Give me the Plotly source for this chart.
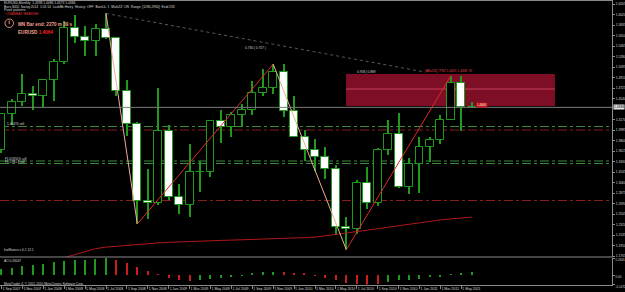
import plotly.graph_objects as go

# ---------------- data ----------------
months = ["Sep 2007", "Oct 2007", "Nov 2007", "Dec 2007", "Jan 2008", "Feb 2008", "Mar 2008", "Apr 2008",
          "May 2008", "Jun 2008", "Jul 2008", "Aug 2008", "Sep 2008", "Oct 2008", "Nov 2008", "Dec 2008",
          "Jan 2009", "Feb 2009", "Mar 2009", "Apr 2009", "May 2009", "Jun 2009", "Jul 2009", "Aug 2009",
          "Sep 2009", "Oct 2009", "Nov 2009", "Dec 2009", "Jan 2010", "Feb 2010", "Mar 2010", "Apr 2010",
          "May 2010", "Jun 2010", "Jul 2010", "Aug 2010", "Sep 2010", "Oct 2010", "Nov 2010", "Dec 2010",
          "Jan 2011", "Feb 2011", "Mar 2011", "Apr 2011", "May 2011", "Jun 2011"]
opens = [1.3637, 1.4265, 1.4478, 1.4628, 1.4588, 1.4862, 1.5186, 1.5784, 1.5616, 1.5550, 1.5760, 1.5605,
         1.4674, 1.4095, 1.2727, 1.2697, 1.3971, 1.2803, 1.2669, 1.3248, 1.3239, 1.4152, 1.4032, 1.4257,
         1.4334, 1.4637, 1.4721, 1.5004, 1.4321, 1.3862, 1.3628, 1.3510, 1.3295, 1.2270, 1.2236, 1.3048,
         1.2701, 1.3633, 1.3923, 1.2982, 1.3380, 1.3690, 1.3801, 1.4165, 1.4807, 1.4393]
highs = [1.4279, 1.4527, 1.4967, 1.4752, 1.4875, 1.5240, 1.5905, 1.6019, 1.5819, 1.5845, 1.6038, 1.5623,
         1.4867, 1.4119, 1.3300, 1.4719, 1.4072, 1.3031, 1.3739, 1.3434, 1.4160, 1.4338, 1.4305, 1.4446,
         1.4843, 1.5061, 1.5144, 1.5140, 1.4579, 1.3985, 1.3818, 1.3694, 1.3365, 1.2452, 1.3107, 1.3334,
         1.3670, 1.4157, 1.4282, 1.3500, 1.3861, 1.3862, 1.4250, 1.4940, 1.4940, 1.4486]
lows = [1.3583, 1.4071, 1.4412, 1.4344, 1.4398, 1.4500, 1.5148, 1.5517, 1.5283, 1.5282, 1.5584, 1.4587,
        1.3881, 1.2329, 1.2424, 1.2660, 1.2745, 1.2513, 1.2457, 1.2885, 1.3160, 1.3749, 1.3868, 1.4047,
        1.4255, 1.4578, 1.4626, 1.4219, 1.3861, 1.3444, 1.3267, 1.3115, 1.2143, 1.1876, 1.2151, 1.2589,
        1.2643, 1.3541, 1.2969, 1.2861, 1.2871, 1.3429, 1.3733, 1.4155, 1.3968, 1.4373]
closes = [1.4265, 1.4478, 1.4628, 1.4588, 1.4862, 1.5186, 1.5784, 1.5616, 1.5550, 1.5760, 1.5605, 1.4674,
          1.4095, 1.2727, 1.2697, 1.3971, 1.2803, 1.2669, 1.3248, 1.3239, 1.4152, 1.4032, 1.4257, 1.4334,
          1.4637, 1.4721, 1.5004, 1.4321, 1.3862, 1.3628, 1.3510, 1.3295, 1.2270, 1.2236, 1.3048, 1.2701,
          1.3633, 1.3923, 1.2982, 1.3380, 1.3690, 1.3801, 1.4165, 1.4807, 1.4393, 1.4384]

ao_values = [0.095, 0.112, 0.138, 0.153, 0.173, 0.194, 0.214, 0.224, 0.232, 0.238, 0.2605, 0.224,
             0.190, 0.122, 0.060, 0.005, -0.050, -0.080, -0.085, -0.075, -0.065, -0.050, -0.030, -0.010,
             0.035, 0.040, 0.050, 0.045, 0.030, 0.020, -0.015, -0.050, -0.080, -0.130, -0.140, -0.1472,
             -0.145, -0.110, -0.080, -0.070, -0.055, -0.030, -0.020, 0.005, 0.035, 0.045]
ao_up = [1, 1, 1, 1, 1, 1, 1, 1, 1, 1, 1, 0, 0, 0, 0, 0, 0, 0, 0, 1, 1, 1, 1, 1,
         1, 1, 1, 0, 0, 0, 0, 0, 0, 0, 0, 0, 0, 1, 1, 1, 1, 1, 1, 1, 1, 1]

ma_first = 6
ma_values = [1.1736, 1.1789, 1.1851, 1.1895, 1.1922, 1.1939, 1.1952, 1.1966, 1.1983, 1.1996, 1.2006,
             1.2015, 1.2022, 1.2027, 1.2034, 1.2040, 1.2045, 1.2050, 1.2056, 1.2061, 1.2066, 1.2073,
             1.2080, 1.2089, 1.2098, 1.2119, 1.2142, 1.2168, 1.2195, 1.2221, 1.2248, 1.2274, 1.2301,
             1.2327, 1.2354, 1.2380, 1.2401, 1.2419, 1.2437, 1.2451]

zz_index = [10, 13, 26, 33, 43]
zz_price = [1.6038, 1.2329, 1.5144, 1.1876, 1.4940]

xd_index = [10, 40.5]
xd_price = [1.6038, 1.5007]

prz_index = [32.97, 52.96]
prz_price = [1.4408, 1.4972]
prz_mid = 1.4707

bid = 1.4384
level_green = [1.4047, 1.3439, 1.3395]
level_red = [1.3985, 1.2743]

price_tick_vals = [1.6205, 1.6020, 1.5835, 1.5650, 1.5465, 1.5280, 1.5095, 1.4910, 1.4725, 1.4540,
                   1.4170, 1.3985, 1.3800, 1.3615, 1.3430, 1.3245, 1.3060, 1.2875, 1.2690, 1.2505,
                   1.2320, 1.2135, 1.1950, 1.1765]
price_tick_text = ["%.4f" % v for v in price_tick_vals]
time_tick_idx = list(range(0, 46, 2))
time_tick_text = ["1 " + months[i] for i in time_tick_idx]
ao_tick_vals = [0.2605, 0.0, -0.1472]
ao_tick_text = ["0.2605", "0.00", "-0.1472"]

# ---------------- style ----------------
W, H = 625, 292
GREEN = "#1f9a1f"
RED = "#c81e1e"
GREY = "#8a8a8a"
TXT = "#d8d8d8"
FONT = "Liberation Sans"

idx = list(range(len(months)))

def py(px):  # paper y from pixel-from-top
    return 1 - px / H

fig = go.Figure()

# wicks
fig.add_trace(go.Bar(x=idx, y=[h - l for h, l in zip(highs, lows)], base=lows, width=0.1,
                     marker=dict(color=GREEN, line=dict(width=0)), xaxis="x", yaxis="y",
                     hoverinfo="skip"))
# bodies
fig.add_trace(go.Bar(x=idx, y=[max(abs(c - o), 0.0002) for o, c in zip(opens, closes)],
                     base=[min(o, c) for o, c in zip(opens, closes)], width=0.76,
                     marker=dict(color=["#000000" if c >= o else "#ffffff" for o, c in zip(opens, closes)],
                                 line=dict(color=GREEN, width=1)),
                     xaxis="x", yaxis="y"))
# AO histogram
fig.add_trace(go.Bar(x=idx, y=ao_values, width=0.11,
                     marker=dict(color=[GREEN if u else RED for u in ao_up], line=dict(width=0)),
                     xaxis="x", yaxis="y2"))

# moving average
fig.add_trace(go.Scatter(x=list(range(ma_first, ma_first + len(ma_values))), y=ma_values, mode="lines",
                         line=dict(color="#b01818", width=1), xaxis="x", yaxis="y"))

# X-D dotted line
fig.add_trace(go.Scatter(x=xd_index, y=xd_price, mode="lines",
                         line=dict(color="#5a5a5a", width=1, dash="dot"), xaxis="x", yaxis="y"))

# zigzag legs
zz_colors = ["#f0a8a0", "#e02828", "#e8b090", "#e02828"]
for k in range(len(zz_index) - 1):
    fig.add_trace(go.Scatter(x=zz_index[k:k + 2], y=zz_price[k:k + 2], mode="lines",
                             line=dict(color=zz_colors[k], width=1), xaxis="x", yaxis="y"))

shapes = []
# PRZ box
shapes.append(dict(type="rect", xref="x", yref="y", x0=prz_index[0], x1=prz_index[1],
                   y0=prz_price[0], y1=prz_price[1], fillcolor="#7d0e26", line=dict(width=0), layer="below"))
shapes.append(dict(type="line", xref="x", yref="y", x0=prz_index[0], x1=prz_index[1],
                   y0=prz_mid, y1=prz_mid, line=dict(color="#c8405c", width=1), layer="below"))
# level lines
for v in level_green:
    shapes.append(dict(type="line", xref="x domain", yref="y", x0=0, x1=1, y0=v, y1=v,
                       line=dict(color="#3c8a3c", width=1, dash="dashdot"), layer="below"))
for v in level_red:
    shapes.append(dict(type="line", xref="x domain", yref="y", x0=0, x1=1, y0=v, y1=v,
                       line=dict(color="#8a1c1c", width=1, dash="dashdot"), layer="below"))
# bid line
shapes.append(dict(type="line", xref="x domain", yref="y", x0=0, x1=1, y0=bid, y1=bid,
                   line=dict(color="#7a7a7a", width=1)))
# frame lines
shapes.append(dict(type="line", xref="paper", yref="paper", x0=0, x1=612.5 / W, y0=py(257), y1=py(257),
                   line=dict(color=GREY, width=1)))
shapes.append(dict(type="line", xref="paper", yref="paper", x0=0, x1=612.5 / W, y0=py(0.5), y1=py(0.5),
                   line=dict(color=GREY, width=1)))
# clock icon
shapes.append(dict(type="circle", xref="paper", yref="paper", x0=5 / W, x1=13.5 / W, y0=py(27.5), y1=py(19),
                   line=dict(color="#e8907a", width=1)))
shapes.append(dict(type="line", xref="paper", yref="paper", x0=9.2 / W, x1=9.2 / W, y0=py(24), y1=py(20.5),
                   line=dict(color="#e8907a", width=1)))

ann = []
def txt(x, y, s, size=3.3, color=TXT, bold=False, xanchor="left", **kw):
    ann.append(dict(x=x / W, y=py(y), xref="paper", yref="paper", text=("<b>%s</b>" % s) if bold else s,
                    showarrow=False, xanchor=xanchor, yanchor="middle",
                    font=dict(family=FONT, size=size, color=color), **kw))

txt(2, 3.5, "EURUSD,Monthly  1.4398 1.4486 1.4373 1.4384")
txt(2, 6.5, "Bars:3000  Swing:2014  1:01:14  LookBk:Histry  History: OFF  BarsLk: 1  MultiZZ: ON  Range: [1280,2960]  Extd:233")
txt(2, 10.5, "Pivot/ patterns:")
txt(2, 14, "~CRAB/BAT  BEARISH", color="#e03030")
txt(16, 24, "MN Bar end: 2270 m 39 s", size=4.6, color="#f0a090", bold=True)
txt(16, 32, "EURUSD <span style='color:#ff2020'>1.4064</span>", size=4.6, color="#f0a090", bold=True)
txt(5, 124, "1.40474 sell", size=3.2)
txt(3, 158.5, "F1.618/50% sell", size=3.0)
txt(3, 161.8, "F1.27/61.8 sell", size=3.0)
txt(2, 250, "harMonics v 0.1 12.1", size=3.2)
txt(2, 260.5, "AO 0.26047", size=3.2)
txt(2, 283.5, "MetaTrader 4, © 2001-2010 MetaQuotes Software Corp.", size=3.2)
txt(243, 48, "0.730 ( 0.757 )", size=3.2)
txt(355, 72, "0.958 | 0.889", size=3.2)
txt(423, 71, "[AB=CD]  PRZ 1.5007-1.4408  91", size=3.2, color="#e04040")
# red price tag near last candle
txt(476, 104.5, "1.4064", size=3.0, color="#ffffff", bgcolor="#c01010", borderpad=0)
# current price tag on the axis
ann.append(dict(x=612.5 / W, y=bid, xref="paper", yref="y", text="1.4384", showarrow=False,
                xanchor="left", yanchor="middle", bgcolor="#e6e6e6", borderpad=0,
                font=dict(family=FONT, size=3.3, color="#000000")))

fig.update_layout(
    width=W, height=H, margin=dict(l=0, r=0, t=0, b=0, autoexpand=False),
    paper_bgcolor="#000000", plot_bgcolor="#000000",
    showlegend=False, barmode="overlay", bargap=0,
    shapes=shapes, annotations=ann,
    xaxis=dict(domain=[0, 612 / W], range=[-1.5 / 10.45, (612 - 1.5) / 10.45], anchor="y2",
               showgrid=False, zeroline=False, showline=True, linecolor=GREY, linewidth=1,
               tickmode="array", tickvals=time_tick_idx, ticktext=time_tick_text,
               ticks="outside", ticklen=3, tickcolor=GREY, ticklabelposition="outside right",
               tickangle=0, automargin=False, ticklabelstandoff=0,
               tickfont=dict(family=FONT, size=3.5, color=TXT)),
    yaxis=dict(domain=[py(257), 1], range=[1.6205 - 253 / 567.6, 1.6205 + 4 / 567.6], anchor="x",
               side="right", showgrid=False, zeroline=False, showline=True, linecolor=GREY,
               tickmode="array", tickvals=price_tick_vals, ticktext=price_tick_text, automargin=False,
               ticks="outside", ticklen=2, tickcolor=GREY,
               tickfont=dict(family=FONT, size=3.3, color=TXT)),
    yaxis2=dict(domain=[py(284.6), py(258)], range=[-0.1472, 0.2605], anchor="x",
                side="right", showgrid=False, zeroline=False, showline=True, linecolor=GREY,
                tickmode="array", tickvals=ao_tick_vals, ticktext=ao_tick_text, automargin=False,
                ticks="outside", ticklen=2, tickcolor=GREY, ticklabelshift=2,
                tickfont=dict(family=FONT, size=3.0, color=TXT)),
)

fig.write_html("out.html")
